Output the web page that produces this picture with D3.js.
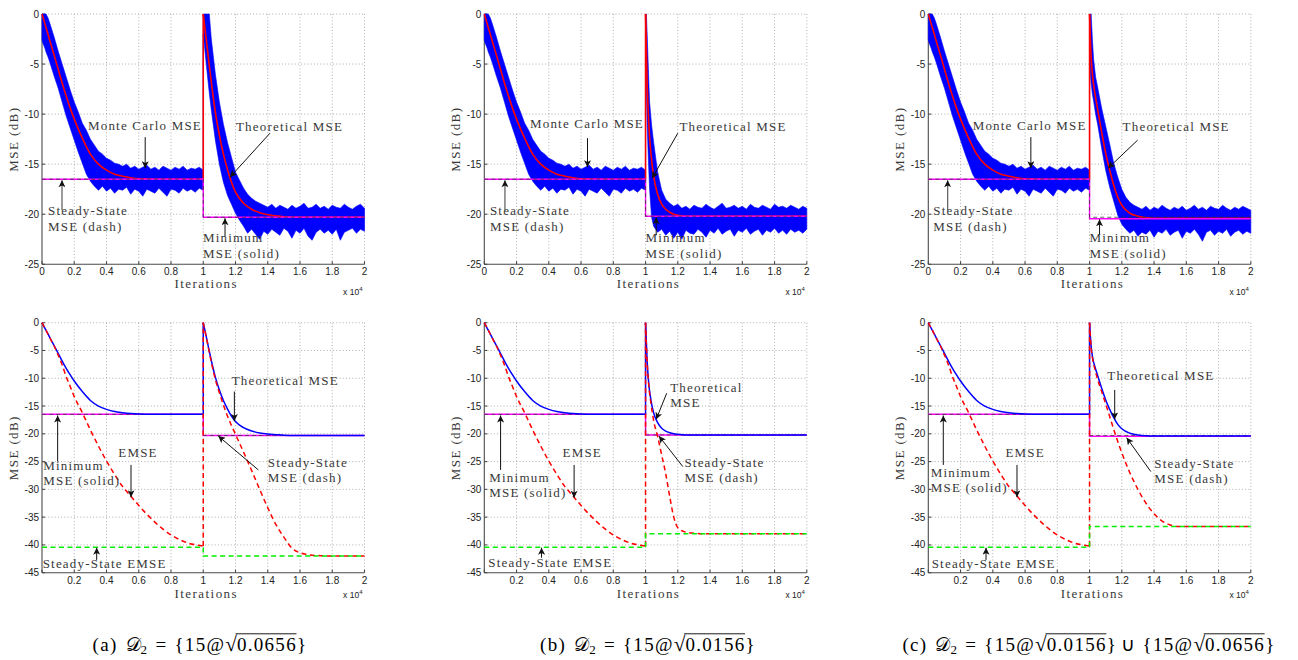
<!DOCTYPE html>
<html>
<head>
<meta charset="utf-8">
<script src="https://cdn.jsdelivr.net/npm/d3@7"></script>
<style>
  body { margin: 0; background: #fff; }
  svg { display: block; }
</style>
</head>
<body>
<svg id="fig" width="1298" height="660"></svg>
<script>
// ---------------- data ----------------
// iteration offsets inside each half of a run (second half is shifted by 10000)
const LINE_T = [0,100,200,350,500,750,1000,1250,1500,1750,2000,2500,3000,3500,4000,4500,5000,5500,6000,7000,8000,9000,10000];
const BAND_T = [0,50,100,175,250,375,500,750,1000,1250,1500,1750,2000,2250,2500,2750,3000,3250,3500,3750,4000,4250,4500,4750,5000,5250,5500,5750,6000,6250,6500,6750,7000,7250,7500,7750,8000,8250,8500,8750,9000,9250,9500,9750,10000];
const SWITCH = 10000;

// theoretical MSE (dB)
const THEORY_FIRST    = [0,-0.55,-1.1,-1.9,-2.75,-4.1,-5.5,-6.9,-8.2,-9.4,-10.5,-12.4,-14.0,-15.0,-15.6,-16.0,-16.2,-16.35,-16.45,-16.5,-16.5,-16.5,-16.5];
const THEORY_SECOND_A = [0,-1.35,-2.7,-4.8,-6.8,-9.8,-12.1,-14.0,-15.5,-16.8,-17.8,-18.9,-19.5,-19.85,-20.05,-20.15,-20.25,-20.3,-20.3,-20.3,-20.3,-20.3,-20.3];
const THEORY_SECOND_B = [0,-7.0,-11.0,-14.2,-16.2,-18.0,-19.0,-19.5,-19.8,-20.0,-20.1,-20.2,-20.2,-20.2,-20.2,-20.2,-20.2,-20.2,-20.2,-20.2,-20.2,-20.2,-20.2];
const THEORY_SECOND_C = [0,-4.3,-6.4,-8.1,-9.5,-11.8,-13.9,-15.6,-17.1,-18.3,-19.1,-19.9,-20.2,-20.35,-20.4,-20.4,-20.4,-20.4,-20.4,-20.4,-20.4,-20.4,-20.4];

// excess MSE (dB)
const EMSE_FIRST    = [0,-0.55,-1.1,-1.95,-2.8,-4.2,-5.8,-7.6,-9.7,-11.5,-13.3,-16.2,-19.3,-22.2,-24.9,-27.3,-29.5,-31.2,-32.9,-35.9,-38.2,-39.6,-40.2];
const EMSE_SECOND_A = [0,-1.4,-2.8,-5.0,-7.1,-10.2,-12.6,-14.8,-16.8,-18.5,-20.1,-23.3,-26.6,-30.0,-33.3,-36.3,-38.6,-40.6,-41.4,-41.9,-42.0,-42.0,-42.0];
const EMSE_SECOND_B = [0,-7.2,-11.3,-14.8,-17.6,-20.5,-23.8,-27.2,-31.3,-35.0,-36.9,-37.7,-37.9,-38.0,-38.0,-38.0,-38.0,-38.0,-38.0,-38.0,-38.0,-38.0,-38.0];
const EMSE_SECOND_C = [0,-4.6,-6.7,-8.6,-10.2,-12.4,-14.6,-16.9,-19.2,-21.4,-23.4,-27.0,-30.0,-32.5,-34.4,-35.7,-36.4,-36.7,-36.7,-36.7,-36.7,-36.7,-36.7];

// Monte Carlo MSE envelope (upper / lower, dB)
const MC_HI_FIRST = [0,0,0,0,0,-0.4,-1.0,-2.3,-3.7,-5.0,-6.3,-7.6,-8.8,-9.8,-10.9,-11.6,-12.5,-13.1,-13.7,-14.0,-14.4,-14.6,-14.9,-15.0,-15.2,-15.0,-15.4,-15.2,-15.5,-15.3,-15.1,-15.5,-15.3,-15.6,-15.2,-15.4,-15.6,-15.3,-15.5,-15.2,-15.6,-15.4,-15.5,-15.3,-15.6];
const MC_LO_FIRST = [-2.6,-2.9,-3.1,-3.4,-3.8,-4.3,-4.9,-6.2,-7.4,-8.8,-10.2,-11.4,-12.6,-13.8,-14.9,-16.0,-16.7,-17.2,-17.6,-17.2,-17.7,-17.4,-17.9,-17.5,-17.6,-17.3,-18.0,-17.5,-17.7,-18.2,-17.5,-17.7,-17.9,-17.4,-17.8,-18.2,-17.5,-17.6,-17.9,-17.4,-17.7,-17.5,-17.8,-17.4,-17.6];
const MC_HI_SECOND_A = [0,0,0,0,0,0,-2.5,-6.0,-8.8,-11.0,-12.8,-14.3,-15.8,-16.6,-17.4,-18.0,-18.4,-18.7,-18.9,-19.1,-19.3,-19.0,-19.4,-19.1,-19.3,-19.5,-19.1,-19.4,-19.2,-18.9,-19.4,-19.3,-19.0,-19.4,-19.2,-19.5,-19.1,-19.3,-19.4,-19.0,-19.3,-19.5,-19.2,-19.0,-19.4];
const MC_LO_SECOND_A = [-2.0,-2.8,-3.6,-4.8,-6.0,-7.9,-9.6,-12.6,-15.0,-16.8,-18.1,-19.0,-19.9,-20.6,-21.2,-21.9,-21.5,-22.0,-22.5,-21.7,-22.0,-21.5,-21.8,-22.1,-21.4,-21.7,-22.4,-21.6,-21.9,-21.4,-22.2,-22.6,-21.8,-21.5,-21.9,-21.6,-22.0,-21.5,-22.6,-21.8,-21.6,-21.4,-21.9,-21.5,-21.7];
const MC_HI_SECOND_B = [0,0,-2.0,-5.5,-8.8,-11.1,-12.8,-15.8,-17.6,-18.5,-18.9,-19.2,-19.0,-19.4,-19.2,-19.5,-19.1,-19.3,-19.4,-19.0,-19.3,-19.5,-19.2,-18.9,-19.4,-19.3,-19.1,-19.4,-19.2,-19.5,-19.0,-19.3,-19.4,-19.1,-19.3,-19.5,-19.0,-19.3,-19.2,-19.4,-19.1,-19.3,-19.5,-19.2,-19.4];
const MC_LO_SECOND_B = [-4.0,-7.5,-11.0,-14.5,-17.5,-20.3,-21.2,-21.8,-21.5,-22.1,-21.7,-22.4,-21.8,-22.5,-21.6,-21.9,-22.0,-21.5,-21.8,-22.3,-21.6,-21.9,-21.4,-22.0,-21.7,-21.5,-22.2,-21.6,-21.8,-21.4,-22.0,-21.7,-21.5,-22.1,-21.6,-21.8,-21.4,-21.9,-21.6,-22.0,-21.5,-21.8,-21.6,-21.9,-21.5];
const MC_HI_SECOND_C = [0,0,0,-2.5,-4.5,-6.3,-7.3,-9.4,-11.2,-13.0,-14.9,-16.3,-17.5,-18.3,-18.8,-19.1,-19.3,-19.5,-19.2,-19.6,-19.3,-19.5,-19.1,-19.4,-19.6,-19.3,-19.5,-19.2,-19.6,-19.4,-19.1,-19.5,-19.3,-19.6,-19.2,-19.4,-19.5,-19.1,-19.4,-19.6,-19.3,-19.5,-19.2,-19.4,-19.6];
const MC_LO_SECOND_C = [-4.0,-6.0,-7.0,-8.0,-8.7,-10.0,-11.0,-13.4,-15.6,-17.3,-18.7,-20.1,-21.0,-21.5,-21.9,-21.6,-22.2,-21.8,-22.0,-21.6,-22.3,-21.7,-21.9,-21.5,-22.1,-21.8,-21.6,-22.4,-21.7,-21.9,-21.5,-22.0,-22.7,-21.8,-21.6,-22.1,-21.7,-21.9,-21.5,-22.2,-21.8,-21.6,-22.0,-21.7,-21.9];

// per-half constant levels (dB): [first half, second half]
const MMSE_A = [-16.5, -20.3], MMSE_B = [-16.5, -20.2], MMSE_C = [-16.5, -20.45];
const SS_MSE_A = [-16.5, -20.3], SS_MSE_B = [-16.5, -20.2], SS_MSE_C = [-16.5, -20.3];
const SS_EMSE_A = [-40.4, -42.0], SS_EMSE_B = [-40.4, -38.0], SS_EMSE_C = [-40.4, -36.7];

// ticks
const X_TICKS = [0,2000,4000,6000,8000,10000,12000,14000,16000,18000,20000];
const X_LABELS_TOP = ['0','0.2','0.4','0.6','0.8','1','1.2','1.4','1.6','1.8','2'];
const X_LABELS_BOTTOM = ['','0.2','0.4','0.6','0.8','1','1.2','1.4','1.6','1.8','2'];
const Y_TICKS_TOP = [0,-5,-10,-15,-20,-25];
const Y_TICKS_BOTTOM = [0,-5,-10,-15,-20,-25,-30,-35,-40,-45];

const CAPTION_TAGS = ['(a)', '(b)', '(c)'];
const CAPTION_SETS = [['0.0656'], ['0.0156'], ['0.0156', '0.0656']];

// ---------------- layout ----------------
const svg = d3.select('#fig');
const COLS = [42, 484.3, 928.3];
const PLOT_W = 322.5;
const ROWS = [
  { top: 14, bottom: 264.3, domain: [-25, 0], yTicks: Y_TICKS_TOP, xLabels: X_LABELS_TOP, tickDy: 10.2, titleDy: 24, expDy: 31, lineGap: 16 },
  { top: 322.7, bottom: 572.7, domain: [-45, 0], yTicks: Y_TICKS_BOTTOM, xLabels: X_LABELS_BOTTOM, tickDy: 11, titleDy: 25, expDy: 25.5, lineGap: 15 }
];
const SERIF = "'Liberation Serif', 'Times New Roman', serif";
const SANS = "'Liberation Sans', Arial, Helvetica, sans-serif";
const TEXT_GRAY = '#383838';

const defs = svg.append('defs');
defs.append('marker')
  .attr('id', 'arrowHead').attr('viewBox', '0 0 10 10')
  .attr('refX', 10).attr('refY', 5)
  .attr('markerUnits', 'userSpaceOnUse')
  .attr('markerWidth', 8).attr('markerHeight', 7)
  .attr('orient', 'auto')
  .append('path').attr('d', 'M0,0 L10,5 L0,10 L2.5,5 Z').attr('fill', '#111');

const pairs = (ts, vals, shift) => ts.map((t, i) => [t + shift, vals[i]]);

function frame(g, x, y, row) {
  const x0 = x.range()[0], x1 = x.range()[1];
  // dotted grid
  const grid = g.append('g').attr('stroke', '#9a9a9a').attr('stroke-width', 0.8)
    .attr('stroke-dasharray', '1,2.2').attr('fill', 'none');
  X_TICKS.slice(1).forEach(t => grid.append('line')
    .attr('x1', x(t)).attr('x2', x(t)).attr('y1', row.top).attr('y2', row.bottom));
  row.yTicks.slice(0, -1).forEach(v => grid.append('line')
    .attr('x1', x0).attr('x2', x1).attr('y1', y(v)).attr('y2', y(v)));
  // axis lines with inward ticks
  const ax = g.append('g').attr('stroke', '#4a4a4a').attr('stroke-width', 1.1);
  ax.append('line').attr('x1', x0).attr('x2', x0).attr('y1', row.top).attr('y2', row.bottom);
  ax.append('line').attr('x1', x0).attr('x2', x1).attr('y1', row.bottom).attr('y2', row.bottom);
  row.yTicks.forEach(v => ax.append('line').attr('x1', x0).attr('x2', x0 + 3).attr('y1', y(v)).attr('y2', y(v)));
  X_TICKS.forEach(t => ax.append('line').attr('x1', x(t)).attr('x2', x(t)).attr('y1', row.bottom).attr('y2', row.bottom - 3));
  // tick labels
  const lab = g.append('g').attr('font-family', SANS).attr('font-size', 10).attr('fill', '#222');
  row.yTicks.forEach(v => lab.append('text').attr('x', x0 - 3).attr('y', y(v)).attr('dy', '0.35em')
    .attr('text-anchor', 'end').text(String(v)));
  X_TICKS.forEach((t, i) => lab.append('text').attr('x', x(t)).attr('y', row.bottom + row.tickDy)
    .attr('text-anchor', 'middle').text(row.xLabels[i]));
  // exponent note
  const ex = lab.append('text').attr('x', x1 - 2).attr('y', row.bottom + row.expDy)
    .attr('text-anchor', 'end').attr('font-size', 8.5);
  ex.append('tspan').text('x 10');
  ex.append('tspan').attr('dy', -4).attr('font-size', 6).text('4');
  // axis titles
  g.append('text').attr('x', (x0 + x1) / 2 + 3).attr('y', row.bottom + row.titleDy)
    .attr('text-anchor', 'middle').attr('font-family', SERIF).attr('font-size', 13)
    .attr('letter-spacing', 1.45).attr('fill', TEXT_GRAY).text('Iterations');
  g.append('text').attr('transform', `translate(${x0 - 24},${(row.top + row.bottom) / 2}) rotate(-90)`)
    .attr('text-anchor', 'middle').attr('font-family', SERIF).attr('font-size', 13)
    .attr('letter-spacing', 1.4).attr('fill', TEXT_GRAY).text('MSE (dB)');
}

function stepLevels(levels) {
  return [[0, levels[0]], [SWITCH, levels[0]], [SWITCH, levels[1]], [20000, levels[1]]];
}

function curvePair(g, x, y, first, second, style) {
  const smooth = d3.line().x(d => x(d[0])).y(d => y(d[1])).curve(d3.curveMonotoneX);
  const straight = d3.line().x(d => x(d[0])).y(d => y(d[1]));
  const p1 = pairs(LINE_T, first, 0), p2 = pairs(LINE_T, second, SWITCH);
  const paths = [smooth(p1), straight([p1[p1.length - 1], p2[0]]), smooth(p2)];
  paths.forEach(d => {
    const p = g.append('path').attr('d', d).attr('fill', 'none');
    Object.entries(style).forEach(([k, v]) => p.attr(k, v));
  });
}

function annotate(g, x, y, row, notes, arrows) {
  const tg = g.append('g').attr('font-family', SERIF).attr('font-size', 13)
    .attr('letter-spacing', 1.2).attr('fill', TEXT_GRAY);
  notes.forEach(n => n.lines.forEach((s, i) => tg.append('text')
    .attr('x', x(n.x)).attr('y', y(n.y) + i * row.lineGap).text(s)));
  arrows.forEach(a => g.append('line')
    .attr('x1', x(a.x1)).attr('y1', y(a.y1)).attr('x2', x(a.x2)).attr('y2', y(a.y2))
    .attr('stroke', a.gray ? '#666' : '#111').attr('stroke-width', a.gray ? 1.3 : 1)
    .attr('marker-end', 'url(#arrowHead)'));
}

// ---------------- panels ----------------
const TOP = [
  { hi2: MC_HI_SECOND_A, lo2: MC_LO_SECOND_A, th2: THEORY_SECOND_A, mmse: MMSE_A, ss: SS_MSE_A,
    notes: [ { lines: ['Monte Carlo MSE'], x: 2850, y: -11.6 }, { lines: ['Theoretical MSE'], x: 12030, y: -11.7 },
             { lines: ['Steady-State', 'MSE (dash)'], x: 370, y: -20.1 }, { lines: ['Minimum', 'MSE (solid)'], x: 9980, y: -22.8 } ],
    arrows: [ { x1: 6400, y1: -12.3, x2: 6400, y2: -15.4 }, { x1: 14140, y1: -11.9, x2: 11660, y2: -16.3 },
              { x1: 1240, y1: -19.6, x2: 1240, y2: -16.6, gray: true }, { x1: 11350, y1: -22.2, x2: 11350, y2: -20.4 } ] },
  { hi2: MC_HI_SECOND_B, lo2: MC_LO_SECOND_B, th2: THEORY_SECOND_B, mmse: MMSE_B, ss: SS_MSE_B,
    notes: [ { lines: ['Monte Carlo MSE'], x: 2830, y: -11.4 }, { lines: ['Theoretical MSE'], x: 12100, y: -11.7 },
             { lines: ['Steady-State', 'MSE (dash)'], x: 350, y: -20.1 }, { lines: ['Minimum', 'MSE (solid)'], x: 9990, y: -22.8 } ],
    arrows: [ { x1: 6400, y1: -12.4, x2: 6400, y2: -15.3 }, { x1: 12000, y1: -11.9, x2: 10410, y2: -16.4 },
              { x1: 1280, y1: -19.7, x2: 1280, y2: -16.6, gray: true }, { x1: 10660, y1: -22.1, x2: 10660, y2: -20.3 } ] },
  { hi2: MC_HI_SECOND_C, lo2: MC_LO_SECOND_C, th2: THEORY_SECOND_C, mmse: MMSE_C, ss: SS_MSE_C,
    notes: [ { lines: ['Monte Carlo MSE'], x: 2750, y: -11.6 }, { lines: ['Theoretical MSE'], x: 12050, y: -11.7 },
             { lines: ['Steady-State', 'MSE (dash)'], x: 310, y: -20.1 }, { lines: ['Minimum', 'MSE (solid)'], x: 10000, y: -22.8 } ],
    arrows: [ { x1: 6360, y1: -12.3, x2: 6360, y2: -15.4 }, { x1: 12980, y1: -12.6, x2: 11150, y2: -15.4 },
              { x1: 1200, y1: -19.7, x2: 1200, y2: -16.6, gray: true }, { x1: 10620, y1: -22.0, x2: 10620, y2: -20.5 } ] }
];

const BOTTOM = [
  { th2: THEORY_SECOND_A, em2: EMSE_SECOND_A, mmse: MMSE_A, ss: SS_MSE_A, sse: SS_EMSE_A,
    notes: [ { lines: ['Theoretical MSE'], x: 11760, y: -11.2 }, { lines: ['Minimum', 'MSE (solid)'], x: 80, y: -26.5 },
             { lines: ['EMSE'], x: 4730, y: -24.1 }, { lines: ['Steady-State', 'MSE (dash)'], x: 14000, y: -25.9 },
             { lines: ['Steady-State EMSE'], x: 40, y: -44.2 } ],
    arrows: [ { x1: 11930, y1: -12.4, x2: 11930, y2: -17.7 }, { x1: 970, y1: -25.0, x2: 970, y2: -16.7 },
              { x1: 5520, y1: -25.6, x2: 5520, y2: -31.4 }, { x1: 13420, y1: -26.5, x2: 10930, y2: -20.4 },
              { x1: 3390, y1: -42.7, x2: 3390, y2: -40.5 } ] },
  { th2: THEORY_SECOND_B, em2: EMSE_SECOND_B, mmse: MMSE_B, ss: SS_MSE_B, sse: SS_EMSE_B,
    notes: [ { lines: ['Theoretical', 'MSE'], x: 11530, y: -12.4 }, { lines: ['Minimum', 'MSE (solid)'], x: 310, y: -28.6 },
             { lines: ['EMSE'], x: 4850, y: -24.1 }, { lines: ['Steady-State', 'MSE (dash)'], x: 12410, y: -25.9 },
             { lines: ['Steady-State EMSE'], x: 250, y: -43.9 } ],
    arrows: [ { x1: 11310, y1: -12.7, x2: 10660, y2: -17.4 }, { x1: 1010, y1: -26.5, x2: 1010, y2: -16.7 },
              { x1: 5570, y1: -25.6, x2: 5570, y2: -31.5 }, { x1: 12310, y1: -25.9, x2: 10830, y2: -20.4 },
              { x1: 3550, y1: -42.3, x2: 3550, y2: -40.5 } ] },
  { th2: THEORY_SECOND_C, em2: EMSE_SECOND_C, mmse: MMSE_C, ss: SS_MSE_C, sse: SS_EMSE_C,
    notes: [ { lines: ['Theoretical MSE'], x: 11100, y: -10.3 }, { lines: ['Minimum', 'MSE (solid)'], x: 150, y: -27.7 },
             { lines: ['EMSE'], x: 4780, y: -24.1 }, { lines: ['Steady-State', 'MSE (dash)'], x: 14020, y: -26.2 },
             { lines: ['Steady-State EMSE'], x: 210, y: -44.2 } ],
    arrows: [ { x1: 11560, y1: -12.1, x2: 11560, y2: -17.4 }, { x1: 930, y1: -25.6, x2: 930, y2: -16.7 },
              { x1: 5500, y1: -25.6, x2: 5500, y2: -31.4 }, { x1: 13800, y1: -26.8, x2: 12300, y2: -20.7 },
              { x1: 3580, y1: -42.7, x2: 3580, y2: -40.5 } ] }
];

const stepLine = (x, y) => d3.line().x(d => x(d[0])).y(d => y(d[1]));

TOP.forEach((p, i) => {
  const row = ROWS[0];
  const x = d3.scaleLinear().domain([0, 20000]).range([COLS[i], COLS[i] + PLOT_W]);
  const y = d3.scaleLinear().domain(row.domain).range([row.bottom, row.top]);
  const g = svg.append('g');
  frame(g, x, y, row);
  // Monte Carlo band
  const band = pairs(BAND_T, MC_HI_FIRST, 0).map((d, k) => [d[0], d[1], MC_LO_FIRST[k]])
    .concat(pairs(BAND_T, p.hi2, SWITCH).map((d, k) => [d[0], d[1], p.lo2[k]]));
  g.append('path').attr('d', d3.area().x(d => x(d[0])).y1(d => y(d[1])).y0(d => y(d[2]))(band))
    .attr('fill', '#0000ff').attr('stroke', '#0000ff').attr('stroke-width', 0.6);
  // theoretical MSE
  curvePair(g, x, y, THEORY_FIRST, p.th2, { stroke: '#ff0000', 'stroke-width': 1.6 });
  // minimum MSE (solid) and steady-state MSE (dash)
  g.append('path').attr('d', stepLine(x, y)(stepLevels(p.mmse))).attr('fill', 'none')
    .attr('stroke', '#ff00ff').attr('stroke-width', 1.4);
  g.append('path').attr('d', stepLine(x, y)(stepLevels(p.ss))).attr('fill', 'none')
    .attr('stroke', '#333').attr('stroke-opacity', 0.75).attr('stroke-width', 1).attr('stroke-dasharray', '4,3');
  annotate(g, x, y, row, p.notes, p.arrows);
});

BOTTOM.forEach((p, i) => {
  const row = ROWS[1];
  const x = d3.scaleLinear().domain([0, 20000]).range([COLS[i], COLS[i] + PLOT_W]);
  const y = d3.scaleLinear().domain(row.domain).range([row.bottom, row.top]);
  const g = svg.append('g');
  frame(g, x, y, row);
  g.append('path').attr('d', stepLine(x, y)(stepLevels(p.mmse))).attr('fill', 'none')
    .attr('stroke', '#ff00ff').attr('stroke-width', 1.5);
  g.append('path').attr('d', stepLine(x, y)(stepLevels(p.ss))).attr('fill', 'none')
    .attr('stroke', '#333').attr('stroke-opacity', 0.7).attr('stroke-width', 1).attr('stroke-dasharray', '4,3');
  curvePair(g, x, y, THEORY_FIRST, p.th2, { stroke: '#0000ff', 'stroke-width': 1.5 });
  curvePair(g, x, y, EMSE_FIRST, p.em2, { stroke: '#ff0000', 'stroke-width': 1.5, 'stroke-dasharray': '5,3.5' });
  g.append('path').attr('d', stepLine(x, y)(stepLevels(p.sse))).attr('fill', 'none')
    .attr('stroke', '#00ee00').attr('stroke-width', 1.5).attr('stroke-dasharray', '5,3.5');
  annotate(g, x, y, row, p.notes, p.arrows);
});

// ---------------- captions ----------------
const CAP_SIZE = 19;
function caption(cx, baseline, tag, values) {
  const g = svg.append('g').attr('font-family', SERIF).attr('fill', '#000');
  let pos = 0;
  const put = (s, opt = {}) => {
    pos += opt.pre || 0;
    const t = g.append('text').attr('x', pos).attr('y', baseline + (opt.dy || 0))
      .attr('font-size', opt.size || CAP_SIZE).attr('letter-spacing', opt.ls == null ? 1.3 : opt.ls).text(s);
    const w = t.node().getComputedTextLength();
    if (opt.root) {
      // vinculum of the square root, joined to the top of the radical sign
      const bb = t.node().getBBox();
      opt.root.top = bb.y + 1.8;
      opt.root.start = pos + w - 1.3;
    }
    if (opt.over) g.append('line').attr('x1', opt.over.start).attr('x2', pos + w - 0.5)
      .attr('y1', opt.over.top).attr('y2', opt.over.top).attr('stroke', '#000').attr('stroke-width', 0.9);
    pos += w + (opt.gap || 0);
  };
  put(tag, { gap: 8 });
  put('𝒟', { ls: 0 });
  put('2', { size: 13, dy: 3, gap: 7 });
  put('=', { gap: 7 });
  values.forEach((v, k) => {
    if (k > 0) put('∪', { pre: 4, gap: 6 });
    put('{15@');
    const root = {};
    put('√', { size: CAP_SIZE * 1.12, ls: 0, root });
    put(v, { over: root });
    put('}');
  });
  g.attr('transform', `translate(${cx - pos / 2},0)`);
}
const CAPTION_CENTERS = [200, 648, 1089];
CAPTION_TAGS.forEach((tag, i) => caption(CAPTION_CENTERS[i], 651, tag, CAPTION_SETS[i]));
</script>
</body>
</html>
